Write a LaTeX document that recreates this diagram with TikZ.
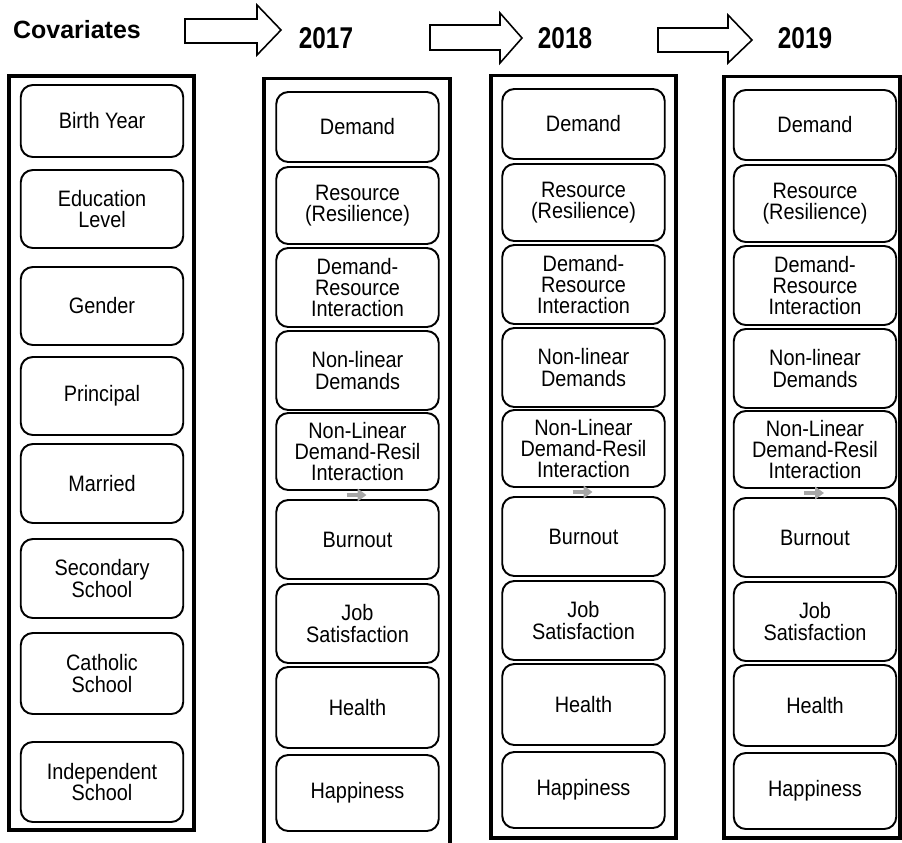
\documentclass[tikz,border=0pt]{standalone}
\usepackage{fontspec}
\setmainfont[FakeStretch=0.89]{Liberation Sans}
\newfontfamily\headfont{Liberation Sans}
\newfontfamily\yearfont[FakeStretch=0.81]{Liberation Sans}
\usetikzlibrary{arrows.meta, calc}

\tikzset{
  colframe/.style={line width=2pt},
  varbox/.style={draw, rounded corners=0.24cm, line width=1.1pt, align=center,
    minimum width=3.25cm, inner sep=1pt, font=\fontsize{12.7}{12.2}\selectfont},
  blockarrow/.style={draw, line width=0.9pt, line join=miter},
  grayarr/.style={draw=black!35, line width=2.3pt, -{Triangle[length=5pt,width=7pt]}},
  yearlabel/.style={font=\yearfont\bfseries\fontsize{17.1}{20}\selectfont}
}

\begin{document}
\begin{tikzpicture}[x=0.02cm, y=-0.02cm]
	\useasboundingbox (0,0) rectangle (902,842);
	% headings and block arrows
	\node[font=\headfont\bfseries\fontsize{14.2}{17}\selectfont] (cov) at (77,30) {Covariates};
	\node[yearlabel] (y2017) at (326,38) {2017};
	\node[yearlabel] (y2018) at (565,38) {2018};
	\node[yearlabel] (y2019) at (805,38) {2019};
	\draw[blockarrow] (185,19) -- (257,19) -- (257,5) -- (281,30) -- (257,55) -- (257,43) -- (185,43) -- cycle;
	\draw[blockarrow] (430,25) -- (500,25) -- (500,13) -- (522,38) -- (500,63) -- (500,50) -- (430,50) -- cycle;
	\draw[blockarrow] (658,28) -- (728,28) -- (728,15) -- (752,40) -- (728,63) -- (728,52) -- (658,52) -- cycle;
	% frames
	\draw[colframe] (9,76) rectangle (194,830);
	\draw[colframe] (264,78.5) rectangle (450,848);
	\draw[colframe] (491,75.5) rectangle (676,838);
	\draw[colframe] (724,76.5) rectangle (900,838);
	% covariates
	\node[varbox, minimum height=1.44cm] (birth) at (102,121) {Birth Year};
	\node[varbox, minimum height=1.56cm] (educ) at (102,209) {Education\\Level};
	\node[varbox, minimum height=1.56cm] (gender) at (102,306) {Gender};
	\node[varbox, minimum height=1.56cm] (princ) at (102,396) {Principal};
	\node[varbox, minimum height=1.58cm] (married) at (102,483.5) {Married};
	\node[varbox, minimum height=1.58cm] (second) at (102,578.5) {Secondary\\School};
	\node[varbox, minimum height=1.62cm] (cath) at (102,673.5) {Catholic\\School};
	\node[varbox, minimum height=1.60cm] (indep) at (102,782) {Independent\\School};
	% yearly outcomes
	\foreach \yr/\cx/\dy in {2017/357.5/0, 2018/583.5/-3, 2019/815/-2} {
	  \foreach \nm/\cy/\h/\txt in {dem/127/1.40/Demand,
	      res/205.5/1.54/{Resource\\(Resilience)},
	      dri/287.5/1.58/{Demand-\\Resource\\Interaction},
	      nld/370.5/1.58/{Non-linear\\Demands},
	      nli/451.5/1.54/{Non-Linear\\Demand-Resil\\Interaction},
	      bur/539.5/1.58/Burnout,
	      job/623.5/1.58/{Job\\Satisfaction},
	      hea/707.5/1.62/Health,
	      hap/793/1.52/Happiness} {
	    \node[varbox, minimum height=\h cm] (\nm\yr) at (\cx,\cy+\dy) {\txt};
	  }
	  \draw[grayarr] ($(nli\yr.south)!.5!(bur\yr.north)+(-11,0)$) -- ++(20,0);
	}
\end{tikzpicture}
\end{document}
